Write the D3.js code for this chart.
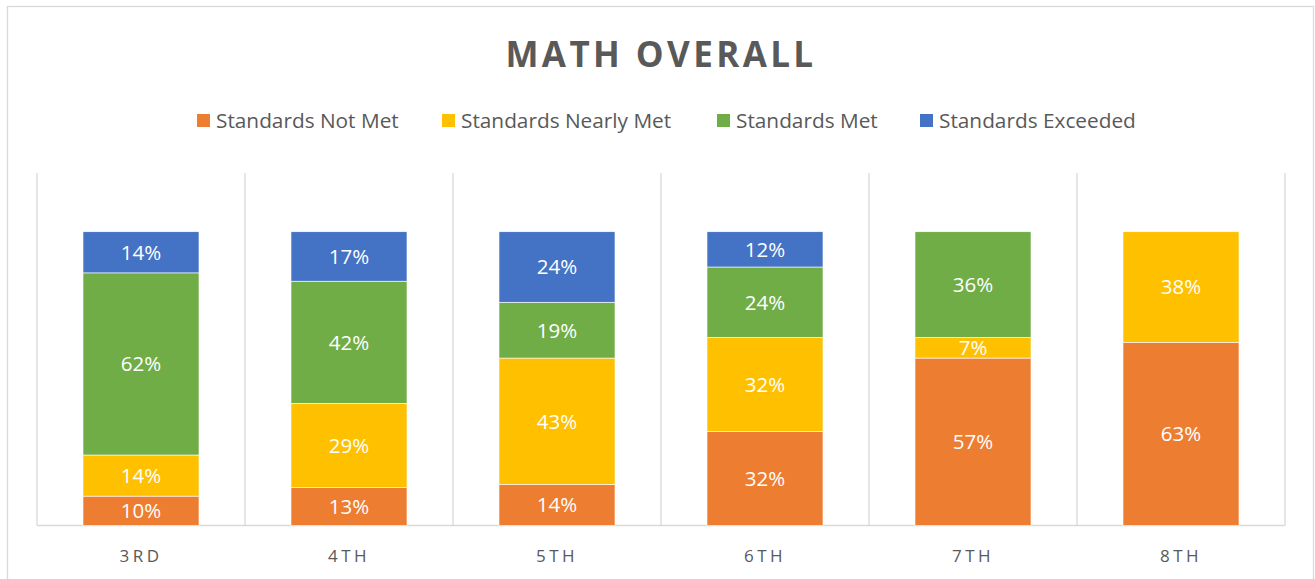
<!DOCTYPE html>
<html>
<head>
<meta charset="utf-8">
<script src="https://cdn.jsdelivr.net/npm/d3@7"></script>
<style>
  html, body { margin: 0; padding: 0; background: #fff; }
  svg { display: block; }
</style>
</head>
<body>
<svg id="chart" width="1315" height="579"></svg>
<script>
const categories = ["3RD", "4TH", "5TH", "6TH", "7TH", "8TH"];
const seriesNames = ["Standards Not Met", "Standards Nearly Met", "Standards Met", "Standards Exceeded"];
const notMet      = [10, 13, 14, 32, 57, 63];
const nearlyMet   = [14, 29, 43, 32, 7, 38];
const met         = [62, 42, 19, 24, 36, 0];
const exceeded    = [14, 17, 24, 12, 0, 0];
const colors = ["#ED7D31", "#FFC000", "#70AD47", "#4472C4"];
const titleText = "MATH OVERALL";

const seriesValues = [notMet, nearlyMet, met, exceeded];
const rows = categories.map((c, i) => {
  const r = { cat: c };
  seriesNames.forEach((s, j) => r[s] = seriesValues[j][i]);
  return r;
});

const svg = d3.select("#chart");
const font = "'Open Sans', sans-serif";
const textGrey = "#595959";
const gridGrey = "#D9D9D9";

// chart border
svg.append("rect")
  .attr("x", 7.5).attr("y", 6.5)
  .attr("width", 1306).attr("height", 600)
  .attr("fill", "none").attr("stroke", gridGrey).attr("stroke-width", 1.3);

const plot = { left: 37, right: 1285, top: 173, bottom: 525.5 };

const x = d3.scaleBand().domain(categories)
  .range([plot.left, plot.right]).paddingInner(0).paddingOuter(0);
const y = d3.scaleLinear().domain([0, 1.2]).range([plot.bottom, plot.top]);

const stack = d3.stack().keys(seriesNames).offset(d3.stackOffsetExpand);
const stacked = stack(rows);

// vertical separators
const sepPositions = categories.map(c => x(c)).concat([plot.right]);
svg.append("g").selectAll("line").data(sepPositions).join("line")
  .attr("x1", d => d).attr("x2", d => d)
  .attr("y1", plot.top).attr("y2", plot.bottom)
  .attr("stroke", gridGrey).attr("stroke-width", 1.3);

// baseline axis
svg.append("line")
  .attr("x1", plot.left).attr("x2", plot.right)
  .attr("y1", plot.bottom).attr("y2", plot.bottom)
  .attr("stroke", gridGrey).attr("stroke-width", 1.3);

const barW = 116;
const barOff = (x.bandwidth() - barW) / 2;

const layers = svg.append("g").selectAll("g").data(stacked).join("g")
  .attr("fill", (d, i) => colors[i]);

layers.selectAll("rect").data(d => d.map(p => ({ p, key: d.key })))
  .join("rect")
  .attr("x", d => x(d.p.data.cat) + barOff)
  .attr("width", barW)
  .attr("y", d => y(d.p[1]))
  .attr("height", d => Math.max(0, y(d.p[0]) - y(d.p[1])))
  .attr("stroke", "#fff").attr("stroke-width", 0.6);

// data labels
layers.selectAll("text").data(d => d.map(p => ({ p, key: d.key })).filter(e => e.p.data[e.key] > 0))
  .join("text")
  .attr("x", d => x(d.p.data.cat) + x.bandwidth() / 2)
  .attr("y", d => (y(d.p[0]) + y(d.p[1])) / 2)
  .attr("dy", "0.36em")
  .attr("text-anchor", "middle")
  .attr("fill", "#fff")
  .style("font-family", font)
  .style("font-size", "20.5px")
  .text(d => d.p.data[d.key] + "%");

// category axis labels
const xAxis = d3.axisBottom(x).tickSize(0).tickPadding(0);
const gx = svg.append("g").attr("transform", `translate(0,${plot.bottom})`).call(xAxis);
gx.select(".domain").remove();
gx.selectAll("text")
  .attr("y", 36.5)
  .attr("dy", 0)
  .attr("fill", textGrey)
  .style("font-family", font)
  .style("font-size", "17px")
  .style("letter-spacing", "3.5px");

// title
svg.append("text")
  .attr("x", 661).attr("y", 67)
  .attr("text-anchor", "middle")
  .attr("fill", textGrey)
  .style("font-family", font)
  .style("font-weight", "bold")
  .style("font-size", "35px")
  .style("letter-spacing", "3.4px")
  .text(titleText);

// legend
const legendX = [197, 442, 717, 920];
const lg = svg.append("g").selectAll("g").data(seriesNames).join("g")
  .attr("transform", (d, i) => `translate(${legendX[i]},114)`);
lg.append("rect").attr("width", 13).attr("height", 13).attr("fill", (d, i) => colors[i]);
lg.append("text")
  .attr("x", 19).attr("y", 14)
  .attr("fill", textGrey)
  .style("font-family", font)
  .style("font-size", "20.8px")
  .text(d => d);
</script>
</body>
</html>
